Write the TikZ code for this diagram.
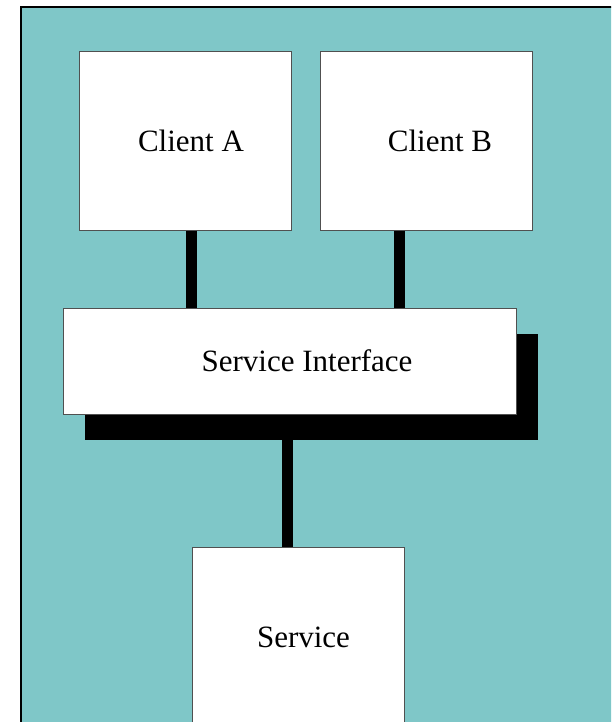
\documentclass[tikz,border=0pt]{standalone}
\usepackage{fontspec}
\setmainfont{Liberation Serif}
\usetikzlibrary{shadows}
\definecolor{bgteal}{RGB}{127,199,200}
\definecolor{edgegray}{RGB}{80,80,80}
\begin{document}
\begin{tikzpicture}[x=1pt,y=-1pt,
  box/.style={draw=edgegray,line width=1pt,fill=white,inner sep=0pt},
  conn/.style={draw=black,line width=11pt,line cap=butt},
  txt/.style={font=\fontsize{31}{37}\selectfont}]
\useasboundingbox (0,0) rectangle (611,722);
\clip (0,0) rectangle (611,722);
\fill[white] (0,0) rectangle (611,722);
\draw[fill=bgteal,line width=2pt] (21,7) rectangle (660,780);
% boxes
\node[box,minimum width=212pt,minimum height=178pt,
  label={[txt,xshift=6pt]center:Client A}] (ca) at (185,141) {};
\node[box,minimum width=212pt,minimum height=178pt,
  label={[txt,xshift=14pt]center:Client B}] (cb) at (426,141) {};
\node[box,minimum width=453pt,minimum height=106pt,
  drop shadow={shadow xshift=21.5pt,shadow yshift=-25.5pt,fill=black,opacity=1},
  label={[txt,xshift=17.5pt]center:Service Interface}] (si) at (289.5,361) {};
\node[box,minimum width=212pt,minimum height=200pt,
  label={[txt,xshift=5.5pt,yshift=10pt]center:Service}] (svc) at (298,647) {};
% connectors
\path ([yshift=-25.5pt]si.south) coordinate (sib);
\draw[conn] ([xshift=6.5pt]ca.south) -- ([xshift=6.5pt]ca.south |- si.north);
\draw[conn] ([xshift=-26.5pt]cb.south) -- ([xshift=-26.5pt]cb.south |- si.north);
\draw[conn] ([xshift=-10.5pt]svc.north) -- ([xshift=-10.5pt]svc.north |- sib);
\end{tikzpicture}
\end{document}
